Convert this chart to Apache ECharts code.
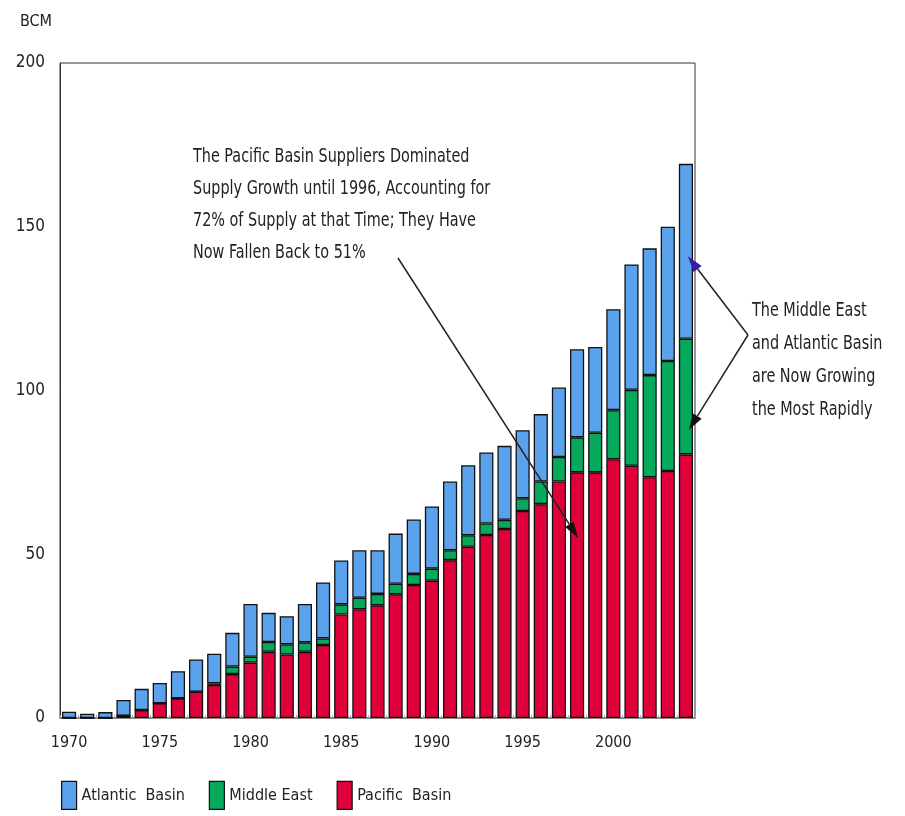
<!DOCTYPE html>
<html><head><meta charset="utf-8">
<script src="https://cdn.jsdelivr.net/npm/echarts@6/dist/echarts.min.js"></script>
<style>html,body{margin:0;padding:0;background:#fff}#c{width:905px;height:816px}</style>
</head><body><div id="c"></div>
<script>
const years = [];
for (let y = 1970; y <= 2004; y++) years.push(String(y));
const pacific = [0,0,0,0.7,2.4,4.5,6.0,8.0,10.1,13.4,16.9,20.2,19.4,20.2,22.3,31.6,33.2,34.4,37.8,40.6,41.9,48.2,52.3,55.9,57.7,63.2,65.3,72.2,75.0,75.0,79.0,77.0,73.5,75.4,80.5];
const middleEast = [0,0,0,0,0,0,0,0,0.5,2.3,1.8,3.0,3.1,2.9,2.0,3.1,3.5,3.5,3.2,3.4,3.7,3.0,3.5,3.5,2.8,3.9,6.9,7.5,10.7,12.1,15.0,23.2,31.2,33.6,35.3];
const atlantic = [1.9,1.3,1.8,4.8,6.5,6.2,8.3,9.9,9.0,10.3,16.1,8.9,8.6,11.7,17.1,13.4,14.5,13.3,15.3,16.6,19.0,21.0,21.4,21.7,22.6,20.8,20.6,21.2,26.9,26.2,30.8,38.3,38.7,41.0,53.4];
const yTicks = [0,50,100,150,200];
const legendNames = ['Atlantic  Basin', 'Middle East', 'Pacific  Basin'];

const FONT = '"DejaVu Sans Condensed","Liberation Sans",sans-serif';
const chart = echarts.init(document.getElementById('c'));
const barStyle = c => ({color: c, borderColor: '#111', borderWidth: 1.3});
chart.setOption({
  animation: false,
  backgroundColor: '#fff',
  grid: {left: 60, right: 210, top: 63, bottom: 98, show: true, borderColor: '#333', borderWidth: 1},
  legend: {
    bottom: 1, left: 56, itemWidth: 15, itemHeight: 28, itemGap: 24, icon: 'rect',
    textStyle: {fontFamily: FONT, fontSize: 16, color: '#222'},
    data: legendNames.map(n => ({name: n, itemStyle: {borderColor: '#111', borderWidth: 1.2}}))
  },
  xAxis: {
    type: 'category', data: years,
    axisLine: {lineStyle: {color: '#888', width: 2}},
    axisTick: {show: true, interval: 0, length: 3, inside: true, lineStyle: {color: '#aaa'}},
    axisLabel: {interval: 4, fontFamily: FONT, fontSize: 16, color: '#222', margin: 17}
  },
  yAxis: {
    type: 'value', min: 0, max: 200, interval: 50,
    name: 'BCM', nameLocation: 'end', nameGap: 33,
    nameTextStyle: {fontFamily: FONT, fontSize: 16, color: '#222', align: 'right', padding: [0, 8, 0, 0]},
    splitLine: {show: false},
    axisLine: {show: true, lineStyle: {color: '#333'}},
    axisTick: {show: false},
    axisLabel: {fontFamily: FONT, fontSize: 17, color: '#222', margin: 15,
      formatter: v => yTicks.includes(v) ? String(v) : ''}
  },
  series: [
    {name: legendNames[2], type: 'bar', stack: 's', data: pacific, itemStyle: barStyle('#e0003a'), barCategoryGap: '22%'},
    {name: legendNames[1], type: 'bar', stack: 's', data: middleEast, itemStyle: barStyle('#06a85c')},
    {name: legendNames[0], type: 'bar', stack: 's', data: atlantic, itemStyle: barStyle('#5ba2ec')}
  ]
});

function arrow(x1, y1, x2, y2, headColor) {
  const ang = Math.atan2(y2 - y1, x2 - x1);
  const L = 16, W = 5;
  const bx = x2 - L * Math.cos(ang), by = y2 - L * Math.sin(ang);
  const px = -Math.sin(ang) * W, py = Math.cos(ang) * W;
  return [
    {type: 'line', z: 100, shape: {x1, y1, x2: bx, y2: by}, style: {stroke: '#222', lineWidth: 1.5}},
    {type: 'polygon', z: 100, shape: {points: [[x2, y2], [bx + px, by + py], [bx - px, by - py]]}, style: {fill: headColor}}
  ];
}
const p = (cat, v) => chart.convertToPixel({xAxisIndex: 0, yAxisIndex: 0}, [cat, v]);
const tip1 = p('1998', 55);
const tip2 = p('2004', 141);
const tip3 = p('2004', 88);
const g = [
  {type: 'text', z: 100, x: 193, y: 141, scaleX: 0.8, style: {text: 'The Pacific Basin Suppliers Dominated\nSupply Growth until 1996, Accounting for\n72% of Supply at that Time; They Have\nNow Fallen Back to 51%', font: '20px ' + FONT, fill: '#222', lineHeight: 32}},
  {type: 'text', z: 100, x: 752, y: 294, scaleX: 0.8, style: {text: 'The Middle East\nand Atlantic Basin\nare Now Growing\nthe Most Rapidly', font: '20px ' + FONT, fill: '#222', lineHeight: 33}},
  ...arrow(398, 258, tip1[0] + 1, tip1[1], '#111'),
  ...arrow(748, 335, tip2[0] + 2, tip2[1], '#3a18a8'),
  ...arrow(748, 335, tip3[0] + 3, tip3[1], '#111')
];
chart.setOption({graphic: g});
</script>
</body></html>
